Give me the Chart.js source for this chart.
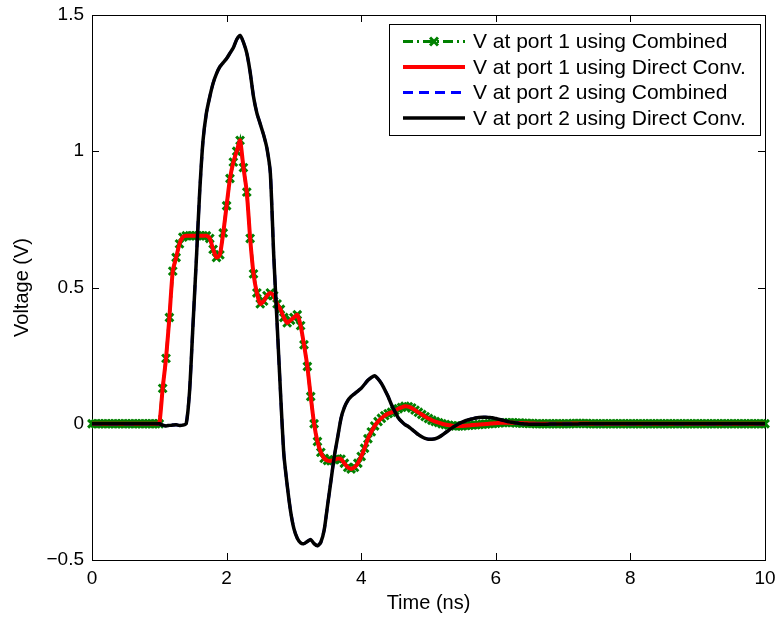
<!DOCTYPE html>
<html>
<head>
<meta charset="utf-8">
<script src="https://cdn.jsdelivr.net/npm/chart.js@4.4.1/dist/chart.umd.min.js"></script>
<style>
  body { margin: 0; background: #fff; }
  #wrap { width: 778px; height: 622px; position: relative; }
</style>
</head>
<body>
<div id="wrap"><canvas id="voltChart"></canvas></div>
<script>
// —————— DATA ——————
// samples every 0.05 ns, 0 .. 10 ns (one row = 1 ns)
const stepNs = 0.05;

const port1 = [
  0, 0, 0, 0, 0, 0, 0, 0, 0, 0, 0, 0, 0, 0, 0, 0, 0, 0, 0, 0,
  0, 0.13, 0.24, 0.39, 0.56, 0.61, 0.66, 0.685, 0.69, 0.69, 0.69, 0.69, 0.69, 0.69, 0.69, 0.68, 0.64, 0.61, 0.62, 0.70,
  0.80, 0.90, 0.96, 1.00, 1.04, 0.94, 0.85, 0.68, 0.55, 0.48, 0.44, 0.45, 0.47, 0.48, 0.47, 0.44, 0.42, 0.39, 0.37, 0.38,
  0.39, 0.40, 0.36, 0.29, 0.21, 0.10, 0.0, -0.065, -0.105, -0.127, -0.135, -0.136, -0.132, -0.128, -0.13, -0.145, -0.16, -0.166, -0.16, -0.145,
  -0.12, -0.09, -0.055, -0.03, -0.008, 0.008, 0.02, 0.03, 0.037, 0.042, 0.048, 0.055, 0.06, 0.064, 0.063, 0.058, 0.05, 0.042, 0.034, 0.026,
  0.019, 0.013, 0.008, 0.004, 0.0, -0.003, -0.005, -0.007, -0.008, -0.008, -0.008, -0.007, -0.006, -0.005, -0.004, -0.003, -0.002, -0.001, 0.0, 0.001,
  0.002, 0.003, 0.004, 0.004, 0.004, 0.004, 0.003, 0.003, 0.002, 0.002, 0.001, 0.001, 0, 0, 0, 0, 0, 0, 0, 0,
  0, 0, 0, 0.001, 0.001, 0.001, 0.001, 0.001, 0, 0, 0, 0, 0, 0, 0, 0, 0, 0, 0, 0,
  0, 0, 0, 0, 0, 0, 0, 0, 0, 0, 0, 0, 0, 0, 0, 0, 0, 0, 0, 0,
  0, 0, 0, 0, 0, 0, 0, 0, 0, 0, 0, 0, 0, 0, 0, 0, 0, 0, 0, 0,
  0
];

const port2 = [
  0, 0, 0, 0, 0, 0, 0, 0, 0, 0, 0, 0, 0, 0, 0, 0, 0, 0, 0, 0,
  0, -0.005, -0.008, -0.006, -0.005, -0.004, -0.006, -0.005, 0.0, 0.12, 0.36, 0.60, 0.85, 1.04, 1.14, 1.20, 1.25, 1.285, 1.31, 1.325,
  1.34, 1.36, 1.38, 1.41, 1.425, 1.40, 1.36, 1.29, 1.20, 1.14, 1.10, 1.06, 1.01, 0.92, 0.62, 0.37, 0.12, -0.11, -0.225, -0.32,
  -0.385, -0.42, -0.437, -0.44, -0.432, -0.425, -0.44, -0.448, -0.435, -0.39, -0.30, -0.21, -0.12, -0.05, 0.02, 0.06, 0.085, 0.10, 0.11, 0.12,
  0.13, 0.145, 0.16, 0.17, 0.176, 0.165, 0.148, 0.125, 0.10, 0.07, 0.045, 0.022, 0.008, -0.003, -0.01, -0.02, -0.03, -0.04, -0.048, -0.054,
  -0.057, -0.057, -0.055, -0.05, -0.042, -0.033, -0.024, -0.015, -0.007, 0.0, 0.006, 0.011, 0.015, 0.018, 0.021, 0.023, 0.024, 0.024, 0.023, 0.022,
  0.019, 0.016, 0.013, 0.01, 0.007, 0.005, 0.003, 0.001, 0, -0.001, -0.002, -0.002, -0.002, -0.002, -0.002, -0.002, -0.001, -0.001, -0.001, -0.001,
  -0.001, -0.001, -0.001, -0.001, -0.001, 0, 0, 0, 0, 0, 0, 0, 0, 0, 0, 0, 0, 0, 0, 0,
  0, 0, 0, 0, 0, 0, 0, 0, 0, 0, 0, 0, 0, 0, 0, 0, 0, 0, 0, 0,
  0, 0, 0, 0, 0, 0, 0, 0, 0, 0, 0, 0, 0, 0, 0, 0, 0, 0, 0, 0,
  0
];

const seriesLabels = [
  'V at port 1 using Combined',
  'V at port 1 using Direct Conv.',
  'V at port 2 using Combined',
  'V at port 2 using Direct Conv.'
];

const xTicks = [0, 2, 4, 6, 8, 10];
const yTicks = [-0.5, 0, 0.5, 1, 1.5];

const FONT = '"Liberation Sans", Arial, Helvetica, sans-serif';
const GREEN = 'rgb(0,128,0)';

const timeNs = port1.map((_, i) => +(i * stepNs).toFixed(2));
const pts = arr => arr.map((v, i) => ({ x: timeNs[i], y: v }));

// pin the plot box: no extra room for overhanging tick labels
function noOverhang(s) {
  s.paddingTop = 0; s.paddingBottom = 0;
  s.paddingLeft = 0; s.paddingRight = 0;
}

// —————— FRAME: box + inward ticks (matlab style) ——————
const framePlugin = {
  id: 'frame',
  beforeDatasetsDraw(chart) {
    const { ctx, chartArea: a, scales } = chart;
    const len = 7;
    ctx.save();
    ctx.strokeStyle = '#000';
    ctx.lineWidth = 1;
    ctx.strokeRect(a.left + 0.5, a.top + 0.5, a.right - a.left, a.bottom - a.top);
    ctx.beginPath();
    xTicks.forEach(t => {
      const x = Math.round(scales.x.getPixelForValue(t)) + 0.5;
      ctx.moveTo(x, a.bottom); ctx.lineTo(x, a.bottom - len);
      ctx.moveTo(x, a.top); ctx.lineTo(x, a.top + len);
    });
    yTicks.forEach(t => {
      const y = Math.round(scales.y.getPixelForValue(t)) + 0.5;
      ctx.moveTo(a.left, y); ctx.lineTo(a.left + len, y);
      ctx.moveTo(a.right, y); ctx.lineTo(a.right - len, y);
    });
    ctx.stroke();
    ctx.restore();
  }
};

// —————— LEGEND (drawn by hand, dash-dot + marker sample) ——————
const legendPlugin = {
  id: 'boxLegend',
  afterDraw(chart) {
    const ctx = chart.ctx;
    const box = { x: 389.5, y: 24.5, w: 371, h: 111 };
    const rowY = [41.5, 67, 92.5, 118];
    const x0 = 403, x1 = 465;
    ctx.save();
    ctx.fillStyle = '#fff';
    ctx.fillRect(box.x, box.y, box.w, box.h);
    ctx.strokeStyle = '#000';
    ctx.lineWidth = 1;
    ctx.strokeRect(box.x, box.y, box.w, box.h);

    chart.data.datasets.forEach((ds, i) => {
      const y = rowY[i];
      ctx.save();
      ctx.strokeStyle = ds.borderColor;
      ctx.lineWidth = ds.borderWidth;
      ctx.setLineDash(ds.borderDash || []);
      ctx.beginPath();
      ctx.moveTo(x0, y);
      ctx.lineTo(x1, y);
      ctx.stroke();
      ctx.restore();
      if (ds.pointRadius) {
        const cx = (x0 + x1) / 2, r = ds.pointRadius * 0.72;
        ctx.save();
        ctx.strokeStyle = ds.pointBorderColor;
        ctx.lineWidth = ds.pointBorderWidth;
        ctx.beginPath();
        ctx.moveTo(cx - r, y - r); ctx.lineTo(cx + r, y + r);
        ctx.moveTo(cx - r, y + r); ctx.lineTo(cx + r, y - r);
        ctx.stroke();
        ctx.restore();
      }
      ctx.fillStyle = '#000';
      ctx.font = '21px ' + FONT;
      ctx.textBaseline = 'middle';
      ctx.fillText(ds.label, 473, y + 1);
    });
    ctx.restore();
  }
};

const tickFmt = v => (v < 0 ? '\u2212' + Math.abs(v) : String(v));

new Chart(document.getElementById('voltChart'), {
  type: 'line',
  data: {
    datasets: [
      {
        label: seriesLabels[0],
        data: pts(port1),
        borderColor: GREEN,
        borderWidth: 3,
        borderDash: [10, 4, 2, 4],
        pointStyle: 'crossRot',
        pointRadius: 5.5,
        pointBorderColor: GREEN,
        pointBorderWidth: 3,
        pointHoverRadius: 5.5,
        tension: 0,
        clip: false,
        order: 4
      },
      {
        label: seriesLabels[1],
        data: pts(port1),
        borderColor: 'rgb(255,0,0)',
        borderWidth: 4,
        pointRadius: 0,
        tension: 0.2,
        order: 3
      },
      {
        label: seriesLabels[2],
        data: pts(port2),
        borderColor: 'rgb(0,0,255)',
        borderWidth: 3,
        borderDash: [10, 6],
        pointRadius: 0,
        tension: 0.2,
        order: 2
      },
      {
        label: seriesLabels[3],
        data: pts(port2),
        borderColor: '#000',
        borderWidth: 3.5,
        pointRadius: 0,
        tension: 0.2,
        order: 1
      }
    ]
  },
  options: {
    responsive: true,
    maintainAspectRatio: false,
    animation: false,
    layout: { padding: { top: 15, right: 13, left: 0, bottom: 0 } },
    plugins: {
      legend: { display: false },
      tooltip: { enabled: false }
    },
    scales: {
      x: {
        type: 'linear',
        min: 0,
        max: 10,
        afterFit: s => { s.height = 62; noOverhang(s); },
        afterBuildTicks: s => { s.ticks = xTicks.map(v => ({ value: v })); },
        grid: { display: false, drawTicks: false },
        border: { display: false },
        ticks: { color: '#000', padding: 7, font: { family: FONT, size: 19 }, maxRotation: 0 },
        title: { display: true, text: 'Time (ns)', color: '#000', padding: { top: 0, bottom: 7 }, font: { family: FONT, size: 20 } }
      },
      y: {
        min: -0.5,
        max: 1.5,
        afterFit: s => { s.width = 92; noOverhang(s); },
        afterBuildTicks: s => { s.ticks = yTicks.map(v => ({ value: v })); },
        grid: { display: false, drawTicks: false },
        border: { display: false },
        ticks: { color: '#000', padding: 8, callback: tickFmt, font: { family: FONT, size: 19 } },
        title: { display: true, text: 'Voltage (V)', color: '#000', padding: { top: 10, bottom: 0 }, font: { family: FONT, size: 20 } }
      }
    }
  },
  plugins: [framePlugin, legendPlugin]
});
</script>
</body>
</html>
